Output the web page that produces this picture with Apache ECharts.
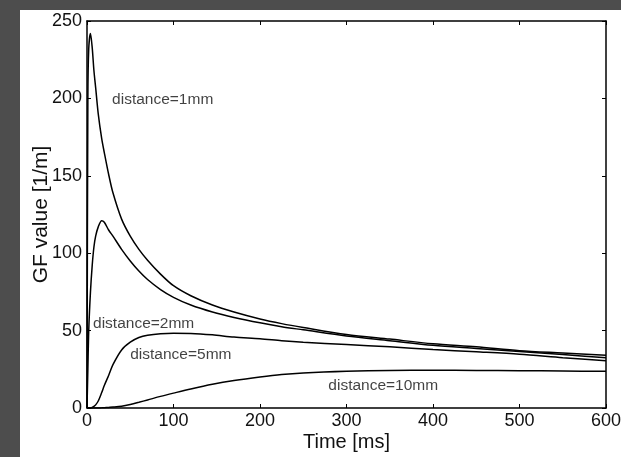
<!DOCTYPE html>
<html>
<head>
<meta charset="utf-8">
<script src="https://cdn.jsdelivr.net/npm/echarts@6/dist/echarts.min.js"></script>
<style>
  html, body { margin: 0; padding: 0; width: 621px; height: 457px; background: #4d4d4d; overflow: hidden; }
  #chart { position: absolute; left: 20px; top: 10px; width: 601px; height: 447px; background: #fff; }
</style>
</head>
<body>
<div id="chart"></div>
<script>
// time samples (ms)
var timeMs = [0, 1, 2, 4, 6, 8, 10, 13, 17, 20, 25, 30, 40, 50, 60, 70, 85, 100, 120, 145, 170, 200, 225, 250, 300, 350, 400, 450, 500, 550, 600];

// GF value [1/m] for each distance
var gf1mm = [0, 200, 232, 242, 233, 218, 207, 190, 174, 165, 151, 139, 122, 111, 102.5, 95.5, 86.5, 79, 72.5, 66.5, 62, 57.5, 54.5, 52, 47.5, 44.5, 41.5, 39.5, 37, 35.5, 34];
var gf2mm = [0, 25, 50, 75, 92, 104, 111, 117, 121, 120, 115, 111, 102.5, 95, 88.5, 83, 76.5, 71.5, 66.5, 62, 58.5, 55, 52.5, 50.5, 46.5, 43.5, 40.5, 38.5, 36.5, 34.5, 32.5];
var gf5mm = [0, 0, 0, 0, 0.3, 1, 2, 4.5, 10, 14.5, 21, 28, 37.5, 42.5, 45.5, 47, 48, 48.3, 48.2, 47.3, 45.8, 44.8, 43.5, 42.5, 41, 39.5, 37.8, 36.3, 34.7, 32.5, 30.5];
var gf10mm = [0, 0, 0, 0, 0, 0, 0, 0, 0.1, 0.2, 0.4, 0.6, 1.2, 2.3, 3.7, 5.2, 7.5, 9.6, 12.3, 15.3, 17.7, 20, 21.6, 22.6, 23.7, 24.3, 24.4, 24.3, 24.1, 23.9, 23.7];

// curve annotations: [time, value, text]
var notes = [
  [29, 199, 'distance=1mm'],
  [7, 54.6, 'distance=2mm'],
  [50, 34.7, 'distance=5mm'],
  [279, 14.7, 'distance=10mm']
];

var FONT = 'Liberation Sans';
var INK = '#111';

function pairs(vals) {
  return timeMs.map(function (t, i) { return [t, vals[i]]; });
}

function curve(vals) {
  return {
    type: 'line',
    data: pairs(vals),
    showSymbol: false,
    smooth: 0.3,
    lineStyle: { color: '#000', width: 1.5 },
    silent: true
  };
}

var axisBase = {
  axisLine: { show: true, onZero: false, lineStyle: { color: '#000', width: 1.5 } },
  axisTick: { show: true, inside: true, length: 4, lineStyle: { color: '#000', width: 1 } },
  splitLine: { show: false }
};

var chart = echarts.init(document.getElementById('chart'));
chart.setOption({
  animation: false,
  backgroundColor: '#fff',
  grid: { left: 67, top: 11, right: 15, bottom: 49, outerBoundsMode: 'none', containLabel: false },
  xAxis: [
    Object.assign({}, axisBase, {
      type: 'value', min: 0, max: 600, interval: 100, position: 'bottom',
      axisLabel: { fontSize: 18, color: INK, fontFamily: FONT, margin: 4 },
      name: 'Time [ms]', nameLocation: 'middle', nameGap: 24, nameMoveOverlap: false,
      nameTextStyle: { fontSize: 20, color: INK, fontFamily: FONT }
    }),
    Object.assign({}, axisBase, {
      type: 'value', min: 0, max: 600, interval: 100, position: 'top',
      axisLabel: { show: false }
    })
  ],
  yAxis: [
    Object.assign({}, axisBase, {
      type: 'value', min: 0, max: 250, interval: 50, position: 'left',
      axisLabel: { fontSize: 18, color: INK, fontFamily: FONT, margin: 5 },
      name: 'GF value [1/m]', nameLocation: 'middle', nameGap: 35, nameMoveOverlap: false,
      nameTextStyle: { fontSize: 21, color: INK, fontFamily: FONT }
    }),
    Object.assign({}, axisBase, {
      type: 'value', min: 0, max: 250, interval: 50, position: 'right',
      axisLabel: { show: false }
    })
  ],
  series: [
    curve(gf1mm),
    curve(gf2mm),
    curve(gf5mm),
    curve(gf10mm),
    {
      type: 'scatter',
      data: notes,
      symbolSize: 0,
      silent: true,
      label: {
        show: true, position: 'right', distance: 0,
        fontSize: 15.5, color: INK, fontFamily: FONT,
        formatter: function (p) { return p.data[2]; }
      }
    }
  ]
});
</script>
</body>
</html>
